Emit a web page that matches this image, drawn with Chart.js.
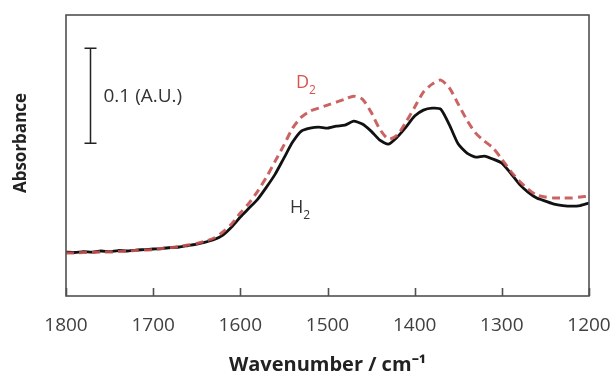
<!DOCTYPE html>
<html>
<head>
<meta charset="utf-8">
<script src="https://cdn.jsdelivr.net/npm/chart.js@4/dist/chart.umd.min.js"></script>
<style>
  html, body { margin: 0; padding: 0; background: #fff; }
  #wrap { width: 616px; height: 379px; }
</style>
</head>
<body>
<div id="wrap"><canvas id="ir"></canvas></div>
<script>
// wavenumber grid (cm-1), every 10 cm-1
const wavenumbers = [
  1800, 1790, 1780, 1770, 1760, 1750, 1740, 1730, 1720, 1710,
  1700, 1690, 1680, 1670, 1660, 1650, 1640, 1630, 1620, 1610,
  1600, 1590, 1580, 1570, 1560, 1550, 1540, 1530, 1520, 1510,
  1500, 1490, 1480, 1470, 1460, 1450, 1440, 1430, 1420, 1410,
  1400, 1390, 1380, 1370, 1360, 1350, 1340, 1330, 1320, 1310,
  1300, 1290, 1280, 1270, 1260, 1250, 1240, 1230, 1220, 1210, 1200
];

// absorbance, H2 run (solid black)
const absH2 = [
  0.0463, 0.0458, 0.0468, 0.0463, 0.0474, 0.0468, 0.0479, 0.0474, 0.0484, 0.0489,
  0.0495, 0.0500, 0.0511, 0.0516, 0.0532, 0.0547, 0.0568, 0.0595, 0.0642, 0.0726,
  0.0832, 0.0926, 0.1021, 0.1147, 0.1284, 0.1453, 0.1621, 0.1737, 0.1768, 0.1779,
  0.1768, 0.1789, 0.1800, 0.1842, 0.1811, 0.1737, 0.1642, 0.1600, 0.1674, 0.1779,
  0.1895, 0.1958, 0.1979, 0.1968, 0.1800, 0.1600, 0.1505, 0.1463, 0.1474, 0.1442,
  0.1400, 0.1295, 0.1179, 0.1095, 0.1032, 0.1000, 0.0968, 0.0953, 0.0947, 0.0953, 0.0979
];

// absorbance, D2 run (red dashed)
const absD2 = [
  0.0453, 0.0453, 0.0458, 0.0458, 0.0463, 0.0463, 0.0468, 0.0474, 0.0479, 0.0484,
  0.0489, 0.0500, 0.0511, 0.0521, 0.0537, 0.0553, 0.0579, 0.0611, 0.0674, 0.0758,
  0.0874, 0.0979, 0.1105, 0.1253, 0.1421, 0.1589, 0.1768, 0.1884, 0.1947, 0.1979,
  0.2011, 0.2042, 0.2074, 0.2105, 0.2074, 0.1937, 0.1758, 0.1653, 0.1695, 0.1832,
  0.1989, 0.2147, 0.2232, 0.2274, 0.2189, 0.2021, 0.1853, 0.1716, 0.1632, 0.1558,
  0.1442, 0.1316, 0.1211, 0.1126, 0.1063, 0.1042, 0.1032, 0.1032, 0.1032, 0.1042, 0.1053
];

const xTicks = [1800, 1700, 1600, 1500, 1400, 1300, 1200];

// 0.1 A.U. scale bar: wavenumber, bottom, top
const scaleBar = [1772, 0.161, 0.261];

const FONT = "'Open Sans', 'Liberation Sans', sans-serif";
const RED = 'rgba(196, 82, 80, 0.9)';

// frame, inward ticks, scale bar, y title and curve labels
const decor = {
  id: 'decor',
  afterDraw(chart) {
    const { ctx, chartArea: { top, bottom, left, right }, scales: { x, y } } = chart;
    ctx.save();

    // frame
    ctx.strokeStyle = '#505050';
    ctx.lineWidth = 1.6;
    ctx.strokeRect(left, top, right - left, bottom - top);

    // ticks pointing up from the bottom edge
    ctx.beginPath();
    xTicks.forEach(v => {
      const px = Math.round(x.getPixelForValue(v)) + 0.5;
      ctx.moveTo(px, bottom);
      ctx.lineTo(px, bottom - 8);
    });
    ctx.stroke();

    // scale bar
    const bx = Math.round(x.getPixelForValue(scaleBar[0])) + 0.5;
    const by0 = y.getPixelForValue(scaleBar[1]);
    const by1 = y.getPixelForValue(scaleBar[2]);
    ctx.strokeStyle = '#222';
    ctx.lineWidth = 1.5;
    ctx.beginPath();
    ctx.moveTo(bx, by0); ctx.lineTo(bx, by1);
    ctx.moveTo(bx - 6, by0); ctx.lineTo(bx + 6, by0);
    ctx.moveTo(bx - 6, by1); ctx.lineTo(bx + 6, by1);
    ctx.stroke();

    ctx.fillStyle = '#333';
    ctx.font = '19px ' + FONT;
    ctx.textBaseline = 'middle';
    ctx.textAlign = 'left';
    ctx.fillText('0.1 (A.U.)', bx + 13, (by0 + by1) / 2 + 1);

    // y title
    ctx.save();
    ctx.translate(21, 143);
    ctx.rotate(-Math.PI / 2);
    ctx.textAlign = 'center';
    ctx.fillStyle = '#222';
    ctx.font = 'bold 17px ' + FONT;
    ctx.fillText('Absorbance', 0, 0);
    ctx.restore();

    // curve labels with subscripts
    const label = (txt, sub, lx, ly, color) => {
      ctx.fillStyle = color;
      ctx.font = '18px ' + FONT;
      ctx.textAlign = 'left';
      ctx.textBaseline = 'alphabetic';
      ctx.fillText(txt, lx, ly);
      const w = ctx.measureText(txt).width;
      ctx.font = '12px ' + FONT;
      ctx.fillText(sub, lx + w, ly + 6);
    };
    label('D', '2', 296, 88, '#d9534f');
    label('H', '2', 290, 213, '#333');

    ctx.restore();
  }
};

new Chart(document.getElementById('ir'), {
  type: 'line',
  data: {
    datasets: [
      {
        label: 'D2',
        data: wavenumbers.map((w, i) => ({ x: w, y: absD2[i] })),
        borderColor: RED,
        borderWidth: 3,
        borderDash: [8, 5],
        pointRadius: 0,
        tension: 0.25,
        fill: false
      },
      {
        label: 'H2',
        data: wavenumbers.map((w, i) => ({ x: w, y: absH2[i] })),
        borderColor: '#111',
        borderWidth: 2.8,
        pointRadius: 0,
        tension: 0.2,
        fill: false
      }
    ]
  },
  options: {
    responsive: true,
    maintainAspectRatio: false,
    animation: false,
    events: [],
    layout: { autoPadding: false, padding: { top: 15, right: 27, left: 0, bottom: 0 } },
    plugins: { legend: { display: false }, tooltip: { enabled: false } },
    scales: {
      x: {
        type: 'linear',
        reverse: true,
        min: 1200,
        max: 1800,
        afterFit(scale) {
          scale.height = 83;
          scale.paddingLeft = 0;
          scale.paddingRight = 0;
        },
        afterBuildTicks(scale) { scale.ticks = xTicks.map(v => ({ value: v })); },
        grid: { display: false, drawTicks: false },
        border: { display: false },
        ticks: {
          padding: 18,
          color: '#404040',
          font: { family: FONT, size: 19 },
          callback: v => String(v)
        },
        title: {
          display: true,
          text: 'Wavenumber / cm\u207B\u00B9',
          color: '#222',
          font: { family: FONT, size: 20, weight: 'bold' },
          padding: { top: 0, bottom: 2 }
        }
      },
      y: {
        min: 0,
        max: 0.296,
        afterFit(scale) { scale.width = 66; },
        grid: { display: false, drawTicks: false },
        border: { display: false },
        ticks: { display: false }
      }
    }
  },
  plugins: [decor]
});
</script>
</body>
</html>
